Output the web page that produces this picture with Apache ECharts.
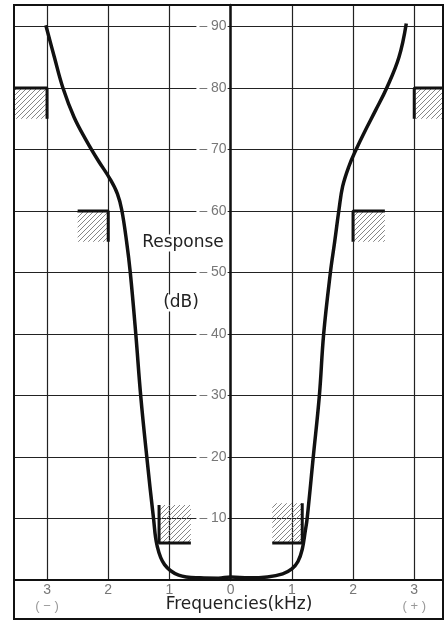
<!DOCTYPE html>
<html><head><meta charset="utf-8">
<script src="https://cdn.jsdelivr.net/npm/echarts@6/dist/echarts.min.js"></script>
<style>html,body{margin:0;padding:0;background:#fff}#c{width:448px;height:621px}</style>
</head><body><div id="c"></div>
<script>
// Frequency tick values (kHz, offset from centre) and their labels
var freqTicks = [-3, -2, -1, 0, 1, 2, 3];
var dbTicks = [0, 10, 20, 30, 40, 50, 60, 70, 80, 90];
// Filter response curve: [frequency offset kHz, attenuation dB]
var responseCurve = [
  [-3.02, 90.2], [-2.88, 85], [-2.74, 80], [-2.56, 75.3], [-2.36, 71.5], [-2.17, 68.3],
  [-1.97, 65.2], [-1.85, 62.8], [-1.78, 60.2], [-1.70, 55], [-1.64, 50], [-1.55, 40],
  [-1.47, 30], [-1.37, 20], [-1.26, 10], [-1.2, 5.5], [-1.08, 2.5], [-0.85, 0.8],
  [-0.5, 0.35], [-0.2, 0.3], [0, 0.5],
  [0.3, 0.35], [0.6, 0.5], [0.85, 1.0], [1.0, 1.8], [1.1, 3.0], [1.17, 5.0],
  [1.22, 8], [1.25, 10], [1.35, 20], [1.45, 30], [1.52, 40], [1.63, 50], [1.70, 55],
  [1.77, 60.2], [1.83, 64], [1.93, 67.2], [2.05, 70], [2.18, 72.7], [2.37, 76.4],
  [2.55, 80], [2.75, 85], [2.87, 90.5]
];
// Specification mask boxes: [x0, x1, y0, y1]
var maskBoxes = [
  [-3.54, -3, 75, 80], [3, 3.47, 75, 80],
  [-2.5, -2, 55, 60], [2, 2.52, 55, 60],
  [-1.17, -0.65, 6, 12.2], [0.68, 1.17, 6, 12.5]
];
// Mask edges (thick lines)
var maskEdges = [
  [[-3.54, 80], [-3, 80], [-3, 75]],
  [[3.47, 80], [3, 80], [3, 75]],
  [[-2.5, 60], [-2, 60], [-2, 55]],
  [[2.52, 60], [2, 60], [2, 55]],
  [[-1.17, 12.2], [-1.17, 6], [-0.65, 6]],
  [[1.17, 12.5], [1.17, 6], [0.68, 6]]
];

var hatch = document.createElement('canvas');
hatch.width = 5; hatch.height = 5;
var hc = hatch.getContext('2d');
hc.strokeStyle = '#777'; hc.lineWidth = 0.9;
hc.beginPath();
hc.moveTo(0, 5); hc.lineTo(5, 0);
hc.moveTo(-1, 1); hc.lineTo(1, -1);
hc.moveTo(4, 6); hc.lineTo(6, 4);
hc.stroke();

var chart = echarts.init(document.getElementById('c'));
var series = [];
series.push({
  type: 'custom', z: 1, silent: true,
  encode: {x: [0, 1], y: [2, 3]},
  data: maskBoxes,
  renderItem: function (params, api) {
    var p0 = api.coord([api.value(0), api.value(3)]);
    var p1 = api.coord([api.value(1), api.value(2)]);
    return {type: 'rect', shape: {x: p0[0], y: p0[1], width: p1[0] - p0[0], height: p1[1] - p0[1]},
      style: {fill: {image: hatch, repeat: 'repeat'}, stroke: null}};
  }
});
maskEdges.forEach(function (e) {
  series.push({type: 'line', data: e, z: 3, symbol: 'none', silent: true,
    lineStyle: {color: '#111', width: 3}});
});
series.push({
  type: 'line', data: responseCurve, z: 5, symbol: 'none', smooth: 0.4, silent: true,
  lineStyle: {color: '#111', width: 3.5}
});

var gridLeft = 14, gridRight = 5, xMin = -3.54, xMax = 3.47;
var zeroOffset = (0 - xMin) / (xMax - xMin) * (448 - gridLeft - gridRight);

chart.setOption({
  animation: false,
  backgroundColor: '#fff',
  grid: {left: gridLeft, right: gridRight, top: 5, bottom: 41, outerBoundsMode: 'none', containLabel: false},
  xAxis: {
    type: 'value', min: xMin, max: xMax,
    axisLine: {show: true, onZero: false, lineStyle: {color: '#111', width: 2}},
    axisTick: {show: false, customValues: freqTicks},
    splitLine: {show: true, lineStyle: {color: '#222', width: 1.2}},
    axisLabel: {
      customValues: freqTicks, margin: 3, color: '#777', fontFamily: 'Liberation Sans', fontSize: 14,
      formatter: function (v) {
        var a = Math.abs(v);
        if (v === -3) return a + '\n{p|( − )}';
        if (v === 3) return a + '\n{p|( + )}';
        return '' + a;
      },
      lineHeight: 15,
      rich: {p: {color: '#999', fontSize: 13, lineHeight: 17, fontFamily: 'Liberation Sans'}}
    }
  },
  yAxis: {
    type: 'value', min: 0, max: 93.5, interval: 10, position: 'left', offset: -zeroOffset,
    axisLine: {show: true, onZero: false, lineStyle: {color: '#111', width: 2.5}},
    axisTick: {show: false},
    splitLine: {show: true, lineStyle: {color: '#222', width: 1.2}},
    axisLabel: {
      margin: 3, color: '#777', fontFamily: 'Liberation Sans', fontSize: 14,
      backgroundColor: '#fff', padding: [0, 1, 0, 3], showMaxLabel: false,
      formatter: function (v) { return (v > 0 && v % 10 === 0) ? '– ' + v : ''; }
    }
  },
  graphic: [
    {type: 'rect', shape: {x: 14, y: 5, width: 429, height: 614}, style: {fill: null, stroke: '#111', lineWidth: 2}, z: 100, silent: true},
    {type: 'text', x: 183, y: 243, style: {text: 'Response', fill: '#222', font: '17px "DejaVu Sans"', align: 'center', verticalAlign: 'middle', backgroundColor: '#fff'}, z: 50},
    {type: 'text', x: 181, y: 303, style: {text: '(dB)', fill: '#222', font: '17px "DejaVu Sans"', align: 'center', verticalAlign: 'middle', backgroundColor: '#fff'}, z: 50},
    {type: 'text', x: 239, y: 605, style: {text: 'Frequencies(kHz)', fill: '#222', font: '17px "DejaVu Sans"', align: 'center', verticalAlign: 'middle'}, z: 50}
  ],
  series: series
});
</script></body></html>
